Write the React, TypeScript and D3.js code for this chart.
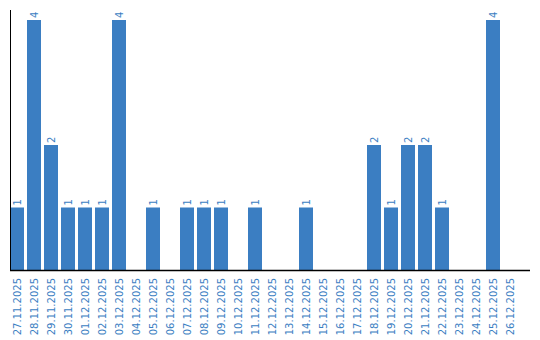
import React from "react";
import * as d3 from "d3";

const dates = [
  "27.11.2025", "28.11.2025", "29.11.2025", "30.11.2025", "01.12.2025", "02.12.2025",
  "03.12.2025", "04.12.2025", "05.12.2025", "06.12.2025", "07.12.2025", "08.12.2025",
  "09.12.2025", "10.12.2025", "11.12.2025", "12.12.2025", "13.12.2025", "14.12.2025",
  "15.12.2025", "16.12.2025", "17.12.2025", "18.12.2025", "19.12.2025", "20.12.2025",
  "21.12.2025", "22.12.2025", "23.12.2025", "24.12.2025", "25.12.2025", "26.12.2025",
];
const counts = [1, 4, 2, 1, 1, 1, 4, 0, 1, 0, 1, 1, 1, 0, 1, 0, 0, 1, 0, 0, 0, 2, 1, 2, 2, 1, 0, 0, 4, 0];

const W = 540, H = 340;
const left = 10, baseline = 270, top = 20;
const color = "#3b7ec2";

export default function App() {
  const x = d3.scaleBand<string>().domain(dates).range([left, left + 17 * dates.length - 3]).paddingInner(3 / 17).paddingOuter(0);
  const y = d3.scaleLinear().domain([0, 4]).range([baseline, top]);
  const font = "'DejaVu Sans', Verdana, sans-serif";
  return (
    <svg width={W} height={H} style={{ position: "absolute", left: 0, top: 0 }}>
      {dates.map((d, i) => {
        const v = counts[i];
        if (!v) return null;
        return (
          <rect key={d} x={x(d)} y={y(v)} width={x.bandwidth()} height={baseline - y(v)} fill={color} />
        );
      })}
      {dates.map((d, i) => {
        const v = counts[i];
        if (!v) return null;
        const cx = (x(d) as number) + x.bandwidth() / 2 + 3.5;
        const cy = y(v) - 2;
        return (
          <text key={"v" + d} transform={`translate(${cx},${cy}) rotate(-90)`} fontSize={10} fontFamily={font} fill={color} textAnchor="start">
            {v}
          </text>
        );
      })}
      <line x1={10.5} x2={10.5} y1={10} y2={baseline} stroke="#000" strokeWidth={1} />
      <line x1={10} x2={530} y1={baseline + 0.5} y2={baseline + 0.5} stroke="#000" strokeWidth={1.5} />
      {dates.map((d) => {
        const cx = (x(d) as number) + x.bandwidth() / 2 + 3.5;
        return (
          <text key={"l" + d} transform={`translate(${cx},${baseline + 8}) rotate(-90)`} fontSize={10} fontFamily={font} fill={color} textAnchor="end">
            {d}
          </text>
        );
      })}
    </svg>
  );
}
